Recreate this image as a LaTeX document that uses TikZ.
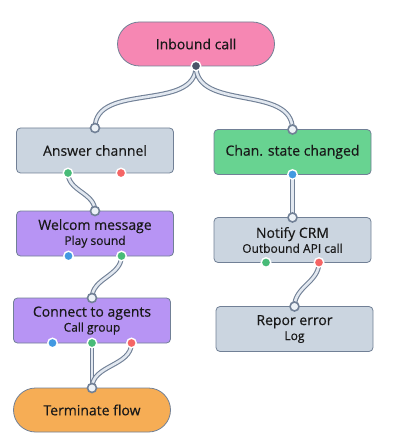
\documentclass[tikz,border=0pt]{standalone}
\usepackage{fontspec}
\setmainfont{Open Sans}[FakeBold=0.4]
\usetikzlibrary{positioning}
\definecolor{callpink}{HTML}{F687B3}
\definecolor{stepgray}{HTML}{CBD5E0}
\definecolor{stategreen}{HTML}{68D391}
\definecolor{actpurple}{HTML}{B794F4}
\definecolor{endorange}{HTML}{F6AD55}
\definecolor{edgegray}{HTML}{718096}
\definecolor{wirefill}{HTML}{E2E8F0}
\definecolor{portfill}{HTML}{EDF2F7}
\definecolor{okgreen}{HTML}{48BB78}
\definecolor{errred}{HTML}{F56565}
\definecolor{infoblue}{HTML}{4299E1}
\definecolor{darkport}{HTML}{4A5568}
\newcommand{\subline}[1]{\\[-1pt]{\fontsize{12}{14}\selectfont #1}}
\tikzset{
  box/.style={draw=edgegray, line width=0.8pt, rounded corners=4pt,
    minimum width=157pt, minimum height=45pt, inner sep=0pt, outer sep=0pt,
    align=center, text=black!90, font=\fontsize{14}{16}\selectfont},
  pill/.style={box, rounded corners=22pt, minimum height=44pt},
  wire/.style={draw=edgegray, line width=1.1pt, double=wirefill, double distance=2.6pt},
  inport/.style={circle, draw=edgegray, line width=1.6pt, fill=portfill,
    minimum size=9pt, inner sep=0pt},
  outport/.style={circle, draw=white, line width=1.4pt, fill=#1,
    minimum size=9.5pt, inner sep=0pt},
}
\begin{document}
\begin{tikzpicture}[x=1pt, y=1pt]
  \useasboundingbox (0,0) rectangle (401,-443);
  % steps
  \node (call) [pill, fill=callpink] at (196,-44) {Inbound call};
  \node (ans) [box, fill=stepgray] at (95,-150.5) {Answer channel};
  \node (chan) [box, fill=stategreen] at (292.5,-152) {Chan. state changed};
  \node (wel) [box, fill=actpurple, below=38pt of ans] {Welcom message\subline{Play sound}};
  \node (agents) [box, fill=actpurple, below=42pt of wel, xshift=-3pt] {Connect to agents\subline{Call group}};
  \node (term) [pill, fill=endorange, below=45pt of agents] {Terminate flow};
  \node (crm) [box, fill=stepgray, below=43pt of chan] {Notify CRM\subline{Outbound API call}};
  \node (err) [box, fill=stepgray, below=44pt of crm, xshift=2pt] {Repor error\subline{Log}};
  % ports
  \coordinate (call-out) at (call.south);
  \coordinate (ans-in) at (ans.north);
  \coordinate (ans-ok) at ([xshift=-27pt]ans.south);
  \coordinate (ans-err) at ([xshift=26pt]ans.south);
  \coordinate (chan-in) at (chan.north);
  \coordinate (chan-out) at (chan.south);
  \coordinate (wel-in) at (wel.north);
  \coordinate (wel-info) at ([xshift=-26.5pt]wel.south);
  \coordinate (wel-ok) at ([xshift=26.5pt]wel.south);
  \coordinate (agents-in) at (agents.north);
  \coordinate (agents-info) at ([xshift=-39.5pt]agents.south);
  \coordinate (agents-ok) at (agents.south);
  \coordinate (agents-err) at ([xshift=39.5pt]agents.south);
  \coordinate (term-in) at (term.north);
  \coordinate (crm-in) at (crm.north);
  \coordinate (crm-ok) at ([xshift=-26.5pt]crm.south);
  \coordinate (crm-err) at ([xshift=26.5pt]crm.south);
  \coordinate (err-in) at (err.north);
  % wires
  \path[every edge/.style={wire, out=-90, in=90}]
              (call-out) edge (ans-in)
              (call-out) edge (chan-in)
              (ans-ok) edge (wel-in)
              (chan-out) edge (crm-in)
              (wel-ok) edge (agents-in)
              (crm-err) edge (err-in)
              (agents-ok) edge (term-in)
              (agents-err) edge (term-in)
              ;
  \foreach \p in {ans-in, chan-in, wel-in, agents-in, term-in, crm-in, err-in}
    \node[inport] at (\p) {};
  \node[outport=darkport] at (call-out) {};
  \foreach \p in {ans-ok, wel-ok, agents-ok, crm-ok}
    \node[outport=okgreen] at (\p) {};
  \foreach \p in {ans-err, agents-err, crm-err}
    \node[outport=errred] at (\p) {};
  \foreach \p in {chan-out, wel-info, agents-info}
    \node[outport=infoblue] at (\p) {};
\end{tikzpicture}
\end{document}
